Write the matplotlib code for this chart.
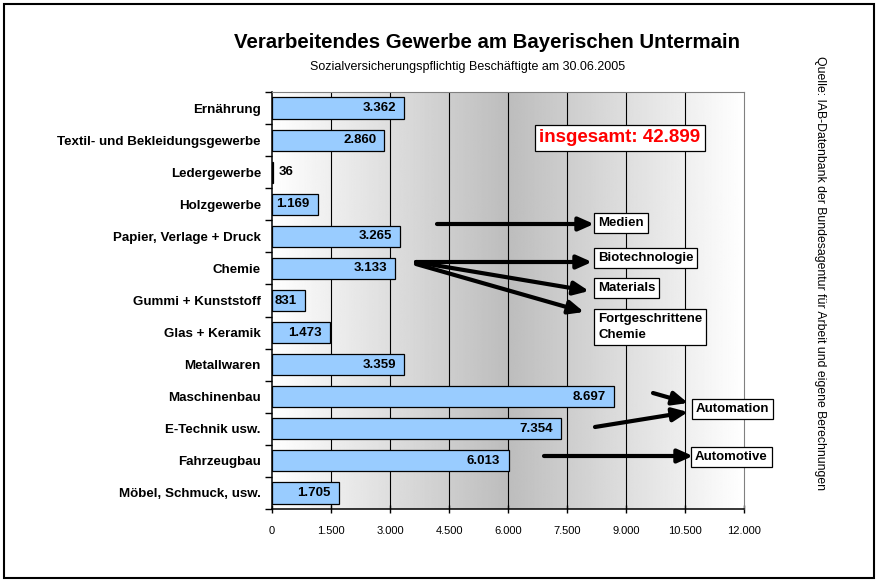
import numpy as np
import matplotlib.pyplot as plt
from matplotlib.patches import Rectangle

plt.rcParams['font.family'] = ['Liberation Sans', 'DejaVu Sans']

# Daten: Beschäftigte je Branche (30.06.2005)
categories = ["Ernährung", "Textil- und Bekleidungsgewerbe", "Ledergewerbe",
              "Holzgewerbe", "Papier, Verlage + Druck", "Chemie",
              "Gummi + Kunststoff", "Glas + Keramik", "Metallwaren",
              "Maschinenbau", "E-Technik usw.", "Fahrzeugbau",
              "Möbel, Schmuck, usw."]
values = [3362, 2860, 36, 1169, 3265, 3133, 831, 1473, 3359, 8697, 7354, 6013, 1705]
x_ticks = [0, 1500, 3000, 4500, 6000, 7500, 9000, 10500, 12000]
total_label = "insgesamt: 42.899"

# Pfeile (Start- und Endpunkt in Pixeln, von oben links) und Textkästen
arrows = [((437, 224), (594, 224)),
          ((416, 262), (592, 262)),
          ((416, 262), (589, 291)),
          ((416, 264), (584, 312)),
          ((653, 393), (688, 403)),
          ((595, 427), (688, 412)),
          ((544, 456), (693, 456))]
boxes = [("Medien", 598, 223),
         ("Biotechnologie", 598, 258),
         ("Materials", 598, 288),
         ("Fortgeschrittene\nChemie", 598, 327),
         ("Automation", 696, 409),
         ("Automotive", 695, 457)]

W, H = 880, 583


def fig_xy(px, py):
    return px / W, 1 - py / H


def fmt(v):
    return f"{v:,}".replace(",", ".")


fig = plt.figure(figsize=(8.8, 5.83), dpi=100)
ax = fig.add_axes([272 / W, 1 - 509 / H, (744 - 272) / W, (509 - 92) / H])

y = np.arange(len(categories))

# Hintergrund: grauer Verlauf (hell - dunkel - hell)
xs = np.linspace(0, 12000, 600)
shade = 1 - 0.26 * (1 - np.abs(xs - 6000) / 6000)
ax.imshow(np.tile(shade, (2, 1)), cmap='gray', vmin=0, vmax=1, aspect='auto',
          extent=[0, 12000, len(categories) - 0.5, -0.5], zorder=0)

for t in x_ticks[1:-1]:
    ax.axvline(t, color='black', lw=0.8, zorder=1)

ax.barh(y, values, height=0.66, color='#99CCFF', edgecolor='black', lw=0.9, zorder=2)

for yi, v in zip(y, values):
    if v < 500:
        ax.annotate(fmt(v), (v, yi), xytext=(4, 0), textcoords='offset points',
                    ha='left', va='center', fontsize=9.5, fontweight='bold')
    else:
        ax.annotate(fmt(v), (v, yi), xytext=(-6, 0), textcoords='offset points',
                    ha='right', va='center', fontsize=9.5, fontweight='bold')

ax.set_xlim(0, 12000)
ax.set_ylim(len(categories) - 0.5, -0.5)
ax.set_xticks(x_ticks)
ax.set_xticklabels([fmt(t) for t in x_ticks], fontsize=8)
ax.tick_params(axis='x', direction='inout', length=6, width=1, pad=9)
ax.set_yticks(y)
ax.set_yticklabels(categories, fontsize=9.6, fontweight='bold')
ax.set_yticks(np.arange(-0.5, len(categories)), minor=True)
ax.tick_params(axis='y', which='major', length=0, pad=8)
ax.tick_params(axis='y', which='minor', length=5, width=1, direction='out')

for s in ['top', 'right']:
    ax.spines[s].set_color('#808080')
for s in ['left', 'bottom']:
    ax.spines[s].set_color('black')
    ax.spines[s].set_linewidth(1.1)

# Titel
fig.text(*fig_xy(487, 42), "Verarbeitendes Gewerbe am Bayerischen Untermain",
         ha='center', va='center', fontsize=14.7, fontweight='bold')
fig.text(*fig_xy(468, 67), "Sozialversicherungspflichtig Beschäftigte am 30.06.2005",
         ha='center', va='center', fontsize=9)
fig.text(*fig_xy(820, 273),
         "Quelle: IAB-Datenbank der Bundesagentur für Arbeit und eigene Berechnungen",
         rotation=-90, ha='center', va='center', fontsize=8.8)

# Gesamtzahl
fig.text(*fig_xy(620, 138), total_label, ha='center', va='center', fontsize=13.5,
         fontweight='bold', color='red',
         bbox=dict(boxstyle='square,pad=0.25', fc='white', ec='black', lw=0.9))

# Pfeile und Kästen
for start, end in arrows:
    ax.annotate("", xy=fig_xy(*end), xycoords='figure fraction',
                xytext=fig_xy(*start), textcoords='figure fraction',
                arrowprops=dict(arrowstyle='-|>,head_length=0.9,head_width=0.4',
                                lw=3, color='black', shrinkA=0, shrinkB=0,
                                mutation_scale=10),
                annotation_clip=False)

for label, px, py in boxes:
    fig.text(*fig_xy(px, py), label, ha='left', va='center', fontsize=9.5,
             fontweight='bold', linespacing=1.5,
             bbox=dict(boxstyle='square,pad=0.3', fc='white', ec='black', lw=0.9))

# Rahmen
fig.patches.append(Rectangle((4 / W, 1 - 578 / H), 870 / W, 574 / H,
                             transform=fig.transFigure, fill=False,
                             ec='black', lw=1.5))

fig.savefig("out.png", dpi=100)
